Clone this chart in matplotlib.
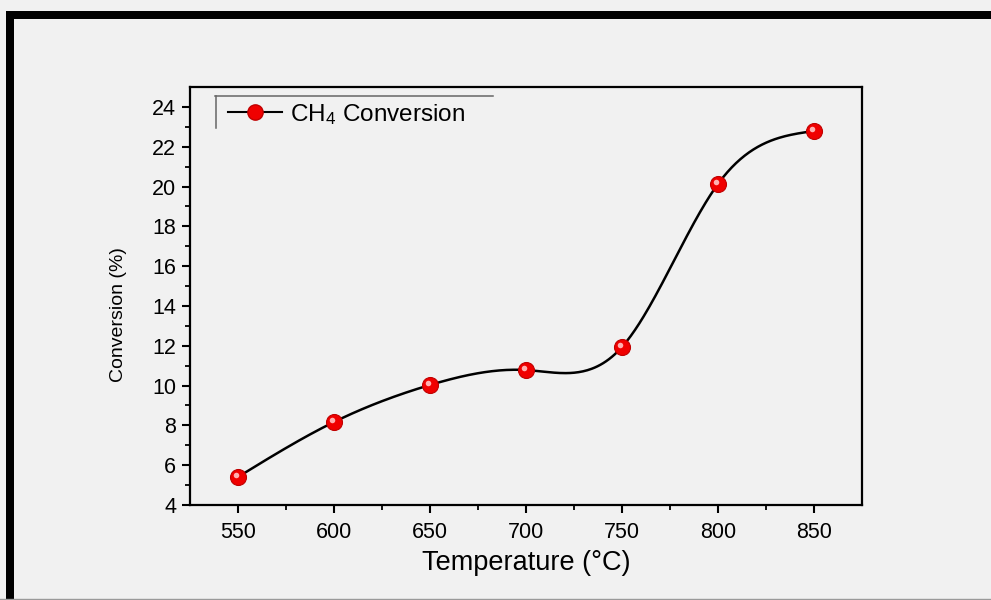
import numpy as np
import matplotlib
matplotlib.use("Agg")
import matplotlib.pyplot as plt
import matplotlib.transforms as mtransforms
from matplotlib.lines import Line2D
from matplotlib.patches import Rectangle

plt.rcParams['font.family'] = ['Liberation Sans', 'DejaVu Sans']
plt.rcParams['mathtext.fontset'] = 'custom'
plt.rcParams['mathtext.rm'] = 'Liberation Sans'
plt.rcParams['mathtext.it'] = 'Liberation Sans:italic'

temperature = [550, 600, 650, 700, 750, 800, 850]
conversion = [5.41, 8.17, 10.03, 10.78, 11.94, 20.13, 22.79]
x_ticks = [550, 600, 650, 700, 750, 800, 850]
y_ticks = [4, 6, 8, 10, 12, 14, 16, 18, 20, 22, 24]
series_label = 'CH$_4$ Conversion'
x_label = 'Temperature (°C)'
y_label = 'Conversion (%)'


def natural_spline(x, y, n=400):
    x = np.asarray(x, float)
    y = np.asarray(y, float)
    k = len(x)
    h = np.diff(x)
    A = np.zeros((k, k))
    b = np.zeros(k)
    A[0, 0] = 1
    A[-1, -1] = 1
    for i in range(1, k - 1):
        A[i, i - 1] = h[i - 1]
        A[i, i] = 2 * (h[i - 1] + h[i])
        A[i, i + 1] = h[i]
        b[i] = 3 * ((y[i + 1] - y[i]) / h[i] - (y[i] - y[i - 1]) / h[i - 1])
    c = np.linalg.solve(A, b)
    xs = np.linspace(x[0], x[-1], n)
    ys = np.empty_like(xs)
    for j, xv in enumerate(xs):
        i = min(np.searchsorted(x, xv, side='right') - 1, k - 2)
        bi = (y[i + 1] - y[i]) / h[i] - h[i] * (2 * c[i] + c[i + 1]) / 3
        di = (c[i + 1] - c[i]) / (3 * h[i])
        dx = xv - x[i]
        ys[j] = y[i] + bi * dx + c[i] * dx ** 2 + di * dx ** 3
    return xs, ys


bg = '#f1f1f1'
fig = plt.figure(figsize=(9.91, 6.0), dpi=100, facecolor=bg)
W, H = 991, 600

# black frame (top and left)
fig.patches.append(Rectangle((6 / W, 1 - 19 / H), 1 - 6 / W, 8 / H, transform=fig.transFigure,
                             facecolor='black', edgecolor='none', zorder=0))
fig.patches.append(Rectangle((6 / W, 0), 8 / W, 1 - 11 / H, transform=fig.transFigure,
                             facecolor='black', edgecolor='none', zorder=0))
fig.add_artist(Line2D([0, 1], [1 / H, 1 / H], transform=fig.transFigure, color='#9a9a9a', lw=1))

ax = fig.add_axes([190 / W, 1 - 505 / H, (862 - 190) / W, (505 - 87) / H])
ax.set_facecolor(bg)

xs, ys = natural_spline(temperature, conversion)
ax.plot(xs, ys, color='black', lw=1.8, zorder=2)
ax.plot(temperature, conversion, linestyle='none', marker='o', markersize=11.5,
        markerfacecolor='#f00000', markeredgecolor='#c00000', markeredgewidth=0.8, zorder=3)
offset = mtransforms.offset_copy(ax.transData, fig=fig, x=-2, y=2, units='dots')
ax.plot(temperature, conversion, linestyle='none', marker='o', markersize=4,
        markerfacecolor='#ffb0b0', markeredgecolor='none', transform=offset, zorder=4)

ax.set_xlim(525, 875)
ax.set_ylim(4, 25)
ax.set_xticks(x_ticks)
ax.set_yticks(y_ticks)
ax.set_xticks([575, 625, 675, 725, 775, 825], minor=True)
ax.set_yticks([5, 7, 9, 11, 13, 15, 17, 19, 21, 23], minor=True)
ax.tick_params(axis='both', which='major', direction='out', length=6, width=1.5,
               labelsize=15.5, colors='black')
ax.tick_params(axis='both', which='minor', direction='out', length=3.5, width=1.3)
ax.tick_params(axis='x', pad=6)
ax.tick_params(axis='y', pad=4)
for s in ax.spines.values():
    s.set_linewidth(1.6)

ax.set_xlabel(x_label, fontsize=19.5, labelpad=5)
ax.set_ylabel(y_label, fontsize=14)
ax.yaxis.set_label_coords(-0.094, 0.455)

# legend
handle = Line2D([0], [0], color='black', lw=1.5, marker='o', markersize=11,
                markerfacecolor='#f00000', markeredgecolor='#c00000')
leg = ax.legend([handle], [series_label], loc='upper left', frameon=False, fontsize=17.5,
                handlelength=2.2, handletextpad=0.35, borderaxespad=0,
                bbox_to_anchor=((222 - 190) / 672 - 0.005, (505 - 92) / 418))
fig.add_artist(Line2D([215 / W, 493 / W], [1 - 96 / H, 1 - 96 / H], transform=fig.transFigure,
                      color='#666666', lw=1.1))
fig.add_artist(Line2D([216 / W, 216 / W], [1 - 96 / H, 1 - 128 / H], transform=fig.transFigure,
                      color='#666666', lw=1.1))

fig.savefig('out.png', dpi=100, facecolor=bg)
